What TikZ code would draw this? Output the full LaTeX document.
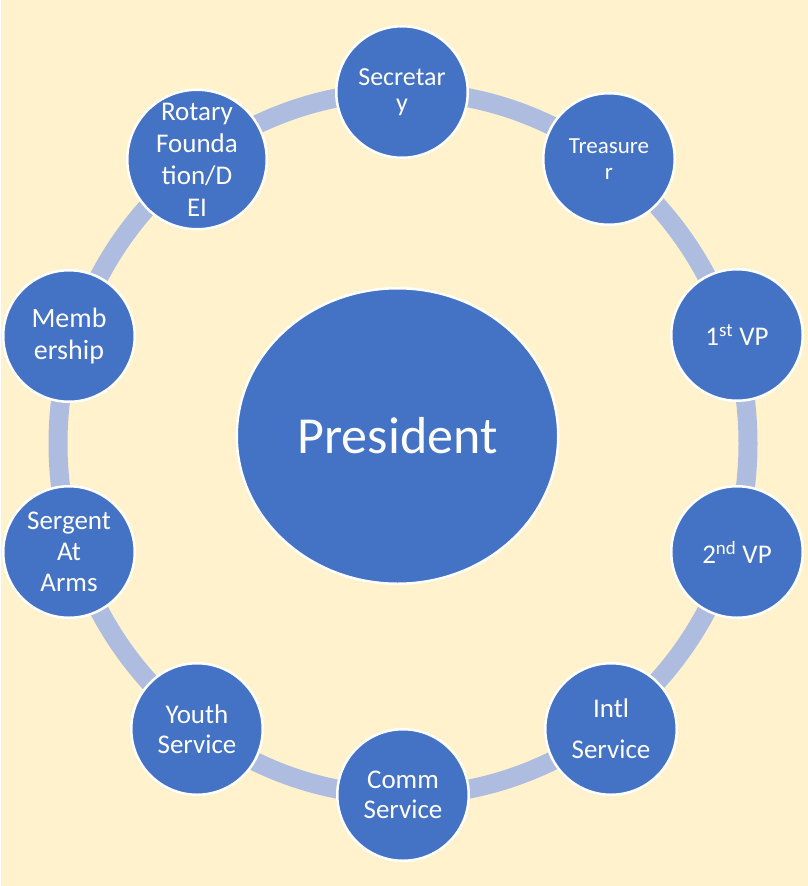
\documentclass[tikz,border=0pt]{standalone}
\usepackage{fontspec}
\setmainfont{Carlito}
\usetikzlibrary{shapes.geometric}
\definecolor{bgyellow}{HTML}{FFF2CC}
\definecolor{nodeblue}{HTML}{4472C4}
\definecolor{ringblue}{HTML}{AEBCE0}
\tikzset{
  member/.style={circle, fill=nodeblue, draw=white, line width=2.5pt,
    minimum size=131.5pt, inner sep=0pt, text=white, align=center,
    font=\fontsize{27}{31}\selectfont},
  chief/.style={ellipse, fill=nodeblue, draw=white, line width=2.5pt,
    minimum width=321.5pt, minimum height=295.5pt, inner sep=0pt,
    text=white, font=\fontsize{52}{62}\selectfont},
  ringstyle/.style={ellipse, draw=ringblue, line width=19pt,
    minimum width=690pt, minimum height=704pt, inner sep=0pt}
}
\begin{document}
\begin{tikzpicture}[x=1pt,y=-1pt]
  \useasboundingbox (0,0) rectangle (808,886);
  \fill[white] (0,0) rectangle (808,886);
  \fill[bgyellow] (1,0) rectangle (808,886);

  \node[ringstyle] (ring) at (403,443.5) {};

  \node[member, font=\fontsize{26}{26}\selectfont] (sec) at (402,92) {Secretar\\y};
  \node[member, font=\fontsize{23}{26}\selectfont] (tre) at (609,159) {Treasure\\r};
  \node[member] (vpa) at (737,335) {1\textsuperscript{st} VP};
  \node[member] (vpb) at (737,552) {2\textsuperscript{nd} VP};
  \node[member] (intl) at (611,729) {Intl\\[10pt]Service};
  \node[member, font=\fontsize{27}{30}\selectfont] (comm) at (403,795) {Comm\\Service};
  \node[member, font=\fontsize{27}{30}\selectfont] (youth) at (197,729) {Youth\\Service};
  \node[member] (serg) at (69,552) {Sergent\\At\\Arms};
  \node[member, font=\fontsize{28}{32}\selectfont] (memb) at (69,336) {Memb\\ership};
  \node[member, font=\fontsize{27}{32}\selectfont] (rot) at (197,159.5) {Rotary\\Founda\\tion/D\\EI};

  \node[chief] (pres) at (397.5,436) {President};
\end{tikzpicture}
\end{document}
